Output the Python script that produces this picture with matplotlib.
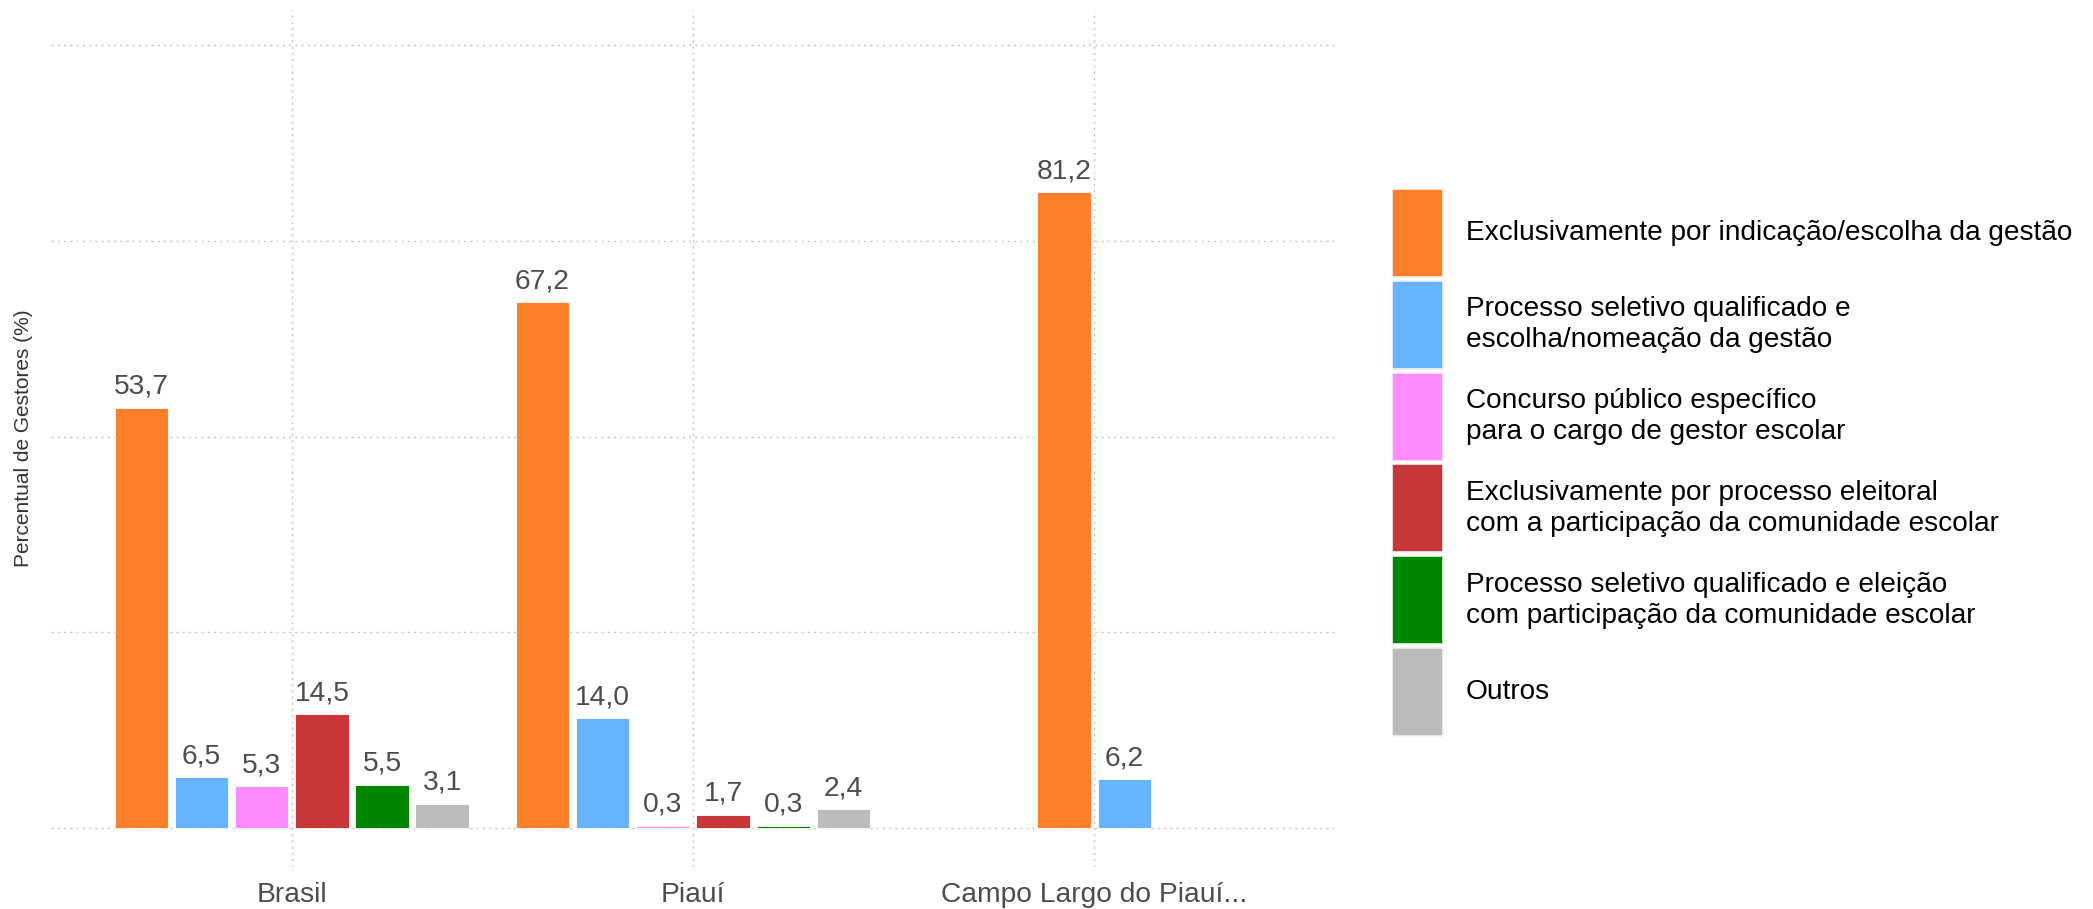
import matplotlib.pyplot as plt
from matplotlib.patches import Rectangle

plt.rcParams['font.family'] = ['Liberation Sans', 'DejaVu Sans']

# dados
locais = ['Brasil', 'Piauí', 'Campo Largo do Piauí...']
categorias = [
    'Exclusivamente por indicação/escolha da gestão',
    'Processo seletivo qualificado e\nescolha/nomeação da gestão',
    'Concurso público específico\npara o cargo de gestor escolar',
    'Exclusivamente por processo eleitoral\ncom a participação da comunidade escolar',
    'Processo seletivo qualificado e eleição\ncom participação da comunidade escolar',
    'Outros',
]
cores = ['#FF7F2A', '#66B3FF', '#FF8CFF', '#C83737', '#008600', '#BBBBBB']

indicacao = [53.7, 67.2, 81.2]
seletivo_nomeacao = [6.5, 14.0, 6.2]
concurso = [5.3, 0.3, None]
eleitoral = [14.5, 1.7, None]
seletivo_eleicao = [5.5, 0.3, None]
outros = [3.1, 2.4, None]
series = [indicacao, seletivo_nomeacao, concurso, eleitoral, seletivo_eleicao, outros]

fig = plt.figure(figsize=(20.93, 9.09), dpi=100)
ax = fig.add_axes([51 / 2093, 42 / 909, (1335 - 51) / 2093, (867 - 10) / 909])

slot = 0.15
larg = 0.8 / 6
for g, local in enumerate(locais):
    # categorias presentes neste local (dodge centrado)
    presentes = [i for i, s in enumerate(series) if s[g] is not None]
    n = len(presentes)
    for j, i in enumerate(presentes):
        v = series[i][g]
        x = g + 1 + (j - (n - 1) / 2) * slot
        ax.bar(x, v, width=larg, color=cores[i], edgecolor='white', linewidth=0.6, zorder=2)
        ax.annotate(f'{v:.1f}'.replace('.', ','), (x, v), xytext=(0, 10),
                    textcoords='offset points', ha='center', va='baseline',
                    fontsize=20.3, color='#4D4D4D', zorder=3)

ax.set_xlim(0.4, 3.6)
ax.set_ylim(-5, 104.5)
ax.set_yticks([0, 25, 50, 75, 100])
ax.set_yticklabels([])
ax.set_xticks([1, 2, 3])
ax.set_xticklabels(locais, fontsize=20.3, color='#4D4D4D')
ax.tick_params(length=0, pad=11)
ax.grid(True, color='#C4C4C4', linestyle=(0, (1.5, 3)), linewidth=1.0, zorder=0)
for s in ax.spines.values():
    s.set_visible(False)
ax.set_ylabel('Percentual de Gestores (%)', fontsize=15, color='#333333')
ax.yaxis.set_label_coords(-0.014, 0.5)

# legenda
lax = fig.add_axes([1392 / 2093, 1 - 738 / 909, 700 / 2093, (738 - 187) / 909])
lax.set_xlim(0, 700)
lax.set_ylim(len(categorias), 0)
lax.axis('off')
for i, (lab, c) in enumerate(zip(categorias, cores)):
    lax.add_patch(Rectangle((0, i + 0.02), 51, 0.96, facecolor=c, edgecolor='#F2F2F2', linewidth=1.2))
    lax.text(74, i + 0.5, lab, va='center', ha='left', fontsize=20.2, color='black', linespacing=1.25)

fig.savefig('out.png', dpi=100)
